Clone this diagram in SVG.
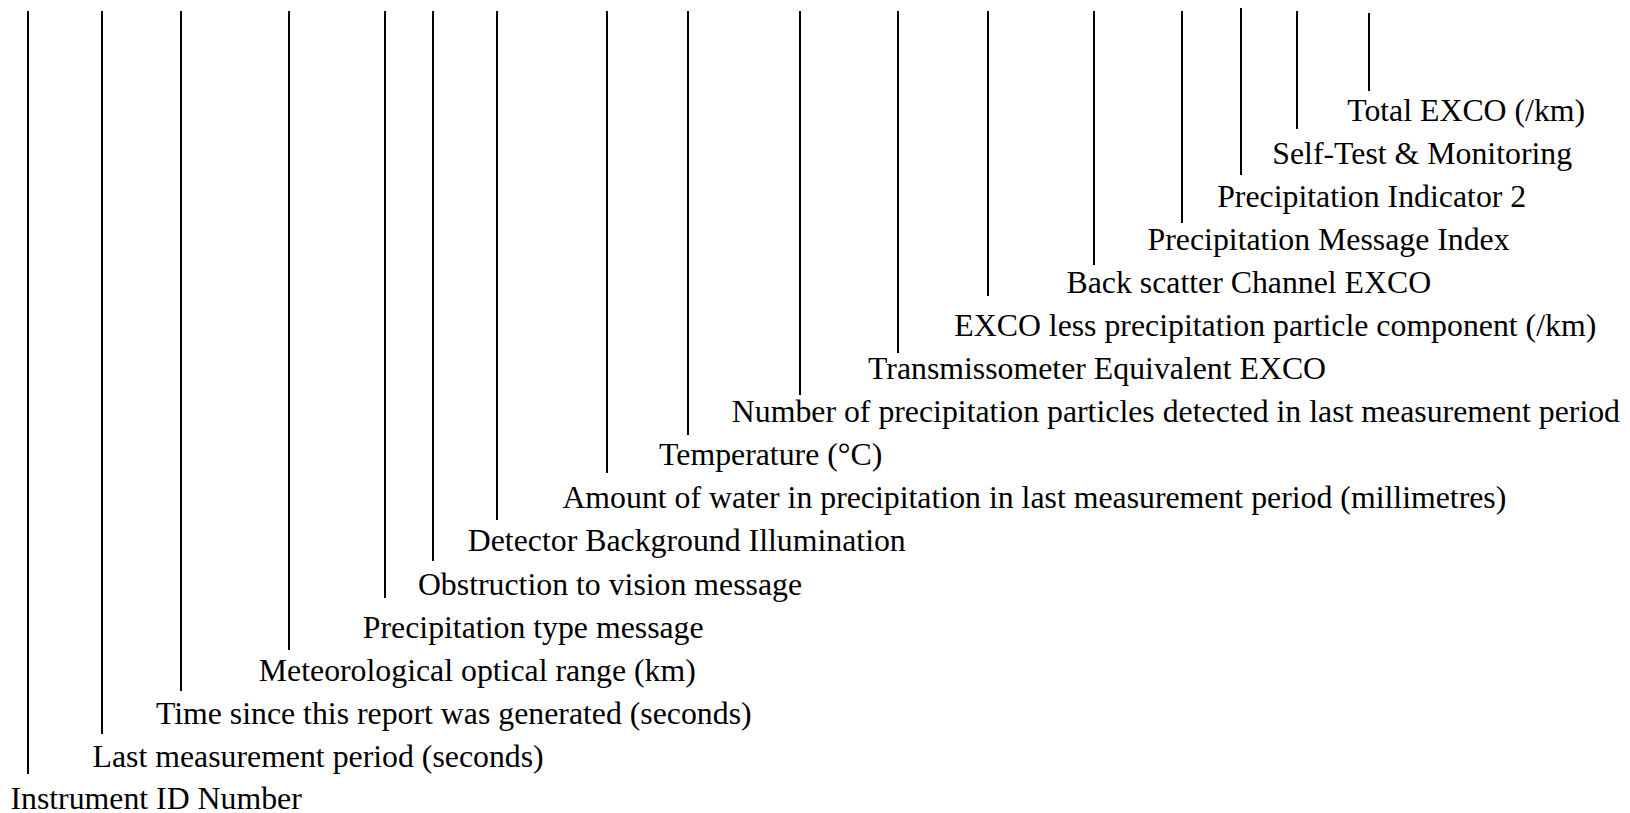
<svg xmlns="http://www.w3.org/2000/svg" width="1630" height="813" viewBox="0 0 1630 813">
<style>
.lbl{font-family:"Liberation Serif","Times New Roman",serif;font-size:31.8px;fill:#000}
.ln{stroke:#000;stroke-width:2;fill:none}
</style>
<rect width="1630" height="813" fill="#fff"/>
<g id="connectors">
<line class="ln" x1="28" y1="11" x2="28" y2="774"/>
<line class="ln" x1="102" y1="11" x2="102" y2="734"/>
<line class="ln" x1="181" y1="11" x2="181" y2="691"/>
<line class="ln" x1="289" y1="11" x2="289" y2="650"/>
<line class="ln" x1="385" y1="11" x2="385" y2="598"/>
<line class="ln" x1="433" y1="11" x2="433" y2="561"/>
<line class="ln" x1="497" y1="11" x2="497" y2="520"/>
<line class="ln" x1="607" y1="11" x2="607" y2="473"/>
<line class="ln" x1="688" y1="11" x2="688" y2="435"/>
<line class="ln" x1="800" y1="11" x2="800" y2="395"/>
<line class="ln" x1="898" y1="11" x2="898" y2="353"/>
<line class="ln" x1="988" y1="11" x2="988" y2="296"/>
<line class="ln" x1="1094" y1="11" x2="1094" y2="265"/>
<line class="ln" x1="1182" y1="11" x2="1182" y2="223"/>
<line class="ln" x1="1241" y1="8" x2="1241" y2="175"/>
<line class="ln" x1="1297" y1="11" x2="1297" y2="129"/>
<line class="ln" x1="1369" y1="13" x2="1369" y2="91"/>
</g>
<g id="n0"><text class="lbl" x="10.4" y="808.5">Instrument ID Number</text></g>
<g id="n1"><text class="lbl" x="92.5" y="767">Last measurement period (seconds)</text></g>
<g id="n2"><text class="lbl" x="155.9" y="724">Time since this report was generated (seconds)</text></g>
<g id="n3"><text class="lbl" x="258.8" y="681">Meteorological optical range (km)</text></g>
<g id="n4"><text class="lbl" x="362.8" y="638">Precipitation type message</text></g>
<g id="n5"><text class="lbl" x="417.9" y="594.5">Obstruction to vision message</text></g>
<g id="n6"><text class="lbl" x="467.8" y="551.4">Detector Background Illumination</text></g>
<g id="n7"><text class="lbl" x="562.4" y="508">Amount of water in precipitation in last measurement period (millimetres)</text></g>
<g id="n8"><text class="lbl" x="659.1" y="465">Temperature (°C)</text></g>
<g id="n9"><text class="lbl" x="731.8" y="422">Number of precipitation particles detected in last measurement period</text></g>
<g id="n10"><text class="lbl" x="868" y="379">Transmissometer Equivalent EXCO</text></g>
<g id="n11"><text class="lbl" x="954.3" y="336">EXCO less precipitation particle component (/km)</text></g>
<g id="n12"><text class="lbl" x="1066.5" y="293">Back scatter Channel EXCO</text></g>
<g id="n13"><text class="lbl" x="1147.6" y="250">Precipitation Message Index</text></g>
<g id="n14"><text class="lbl" x="1217.2" y="207">Precipitation Indicator 2</text></g>
<g id="n15"><text class="lbl" x="1272.3" y="164">Self-Test &amp; Monitoring</text></g>
<g id="n16"><text class="lbl" x="1347.2" y="120.6">Total EXCO (/km)</text></g>
</svg>
